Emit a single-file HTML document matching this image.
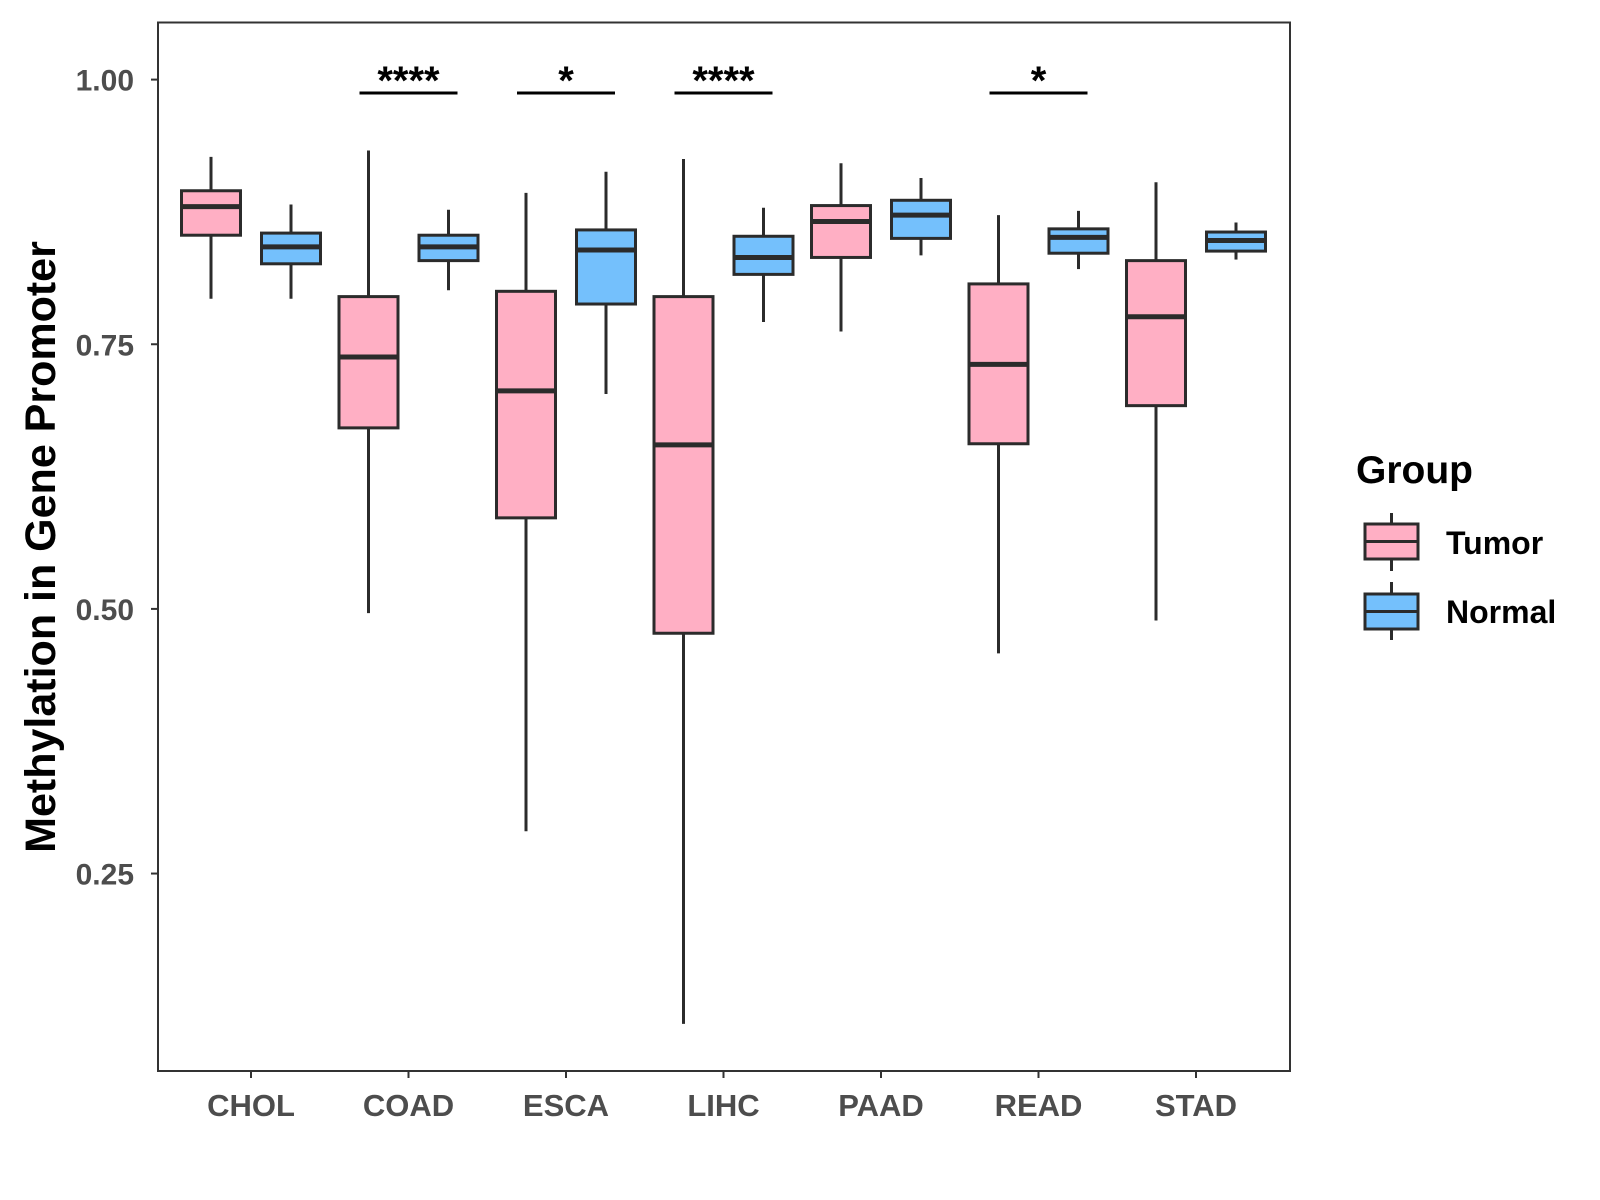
<!DOCTYPE html>
<html><head><meta charset="utf-8"><style>body{margin:0;background:#fff}svg{display:block;font-family:"Liberation Sans",Arial,sans-serif}</style></head>
<body>
<svg id="chart" width="1600" height="1200" viewBox="0 0 1600 1200">
<rect x="158" y="22.5" width="1132" height="1048.5" fill="none" stroke="#333" stroke-width="2"/>
<g id="marks"></g>
<text transform="translate(55,547) rotate(-90)" text-anchor="middle" font-size="43" font-weight="bold" fill="#000">Methylation in Gene Promoter</text>
<g>
<text x="1356" y="483" font-size="39" font-weight="bold" fill="#000">Group</text>
<g>
<line x1="1391.5" y1="513" x2="1391.5" y2="571" stroke="#2b2b2b" stroke-width="3"/>
<rect x="1365" y="524" width="53" height="35" fill="#FFAFC4" stroke="#2b2b2b" stroke-width="3"/>
<line x1="1365" y1="541.5" x2="1418" y2="541.5" stroke="#2b2b2b" stroke-width="3"/>
<text x="1446" y="554" font-size="32" font-weight="bold" fill="#000">Tumor</text></g>
<g>
<line x1="1391.5" y1="582" x2="1391.5" y2="640" stroke="#2b2b2b" stroke-width="3"/>
<rect x="1365" y="594" width="53" height="35" fill="#74C0FC" stroke="#2b2b2b" stroke-width="3"/>
<line x1="1365" y1="611.5" x2="1418" y2="611.5" stroke="#2b2b2b" stroke-width="3"/>
<text x="1446" y="623" font-size="32" font-weight="bold" fill="#000">Normal</text></g>
</g>
</svg>
<script>
const categories=["CHOL","COAD","ESCA","LIHC","PAAD","READ","STAD"];
// [lowWhisker, q1, median, q3, highWhisker]
const tumorStats=[[0.793,0.853,0.880,0.895,0.927],[0.496,0.671,0.738,0.795,0.933],[0.290,0.586,0.706,0.800,0.893],[0.108,0.477,0.655,0.795,0.925],[0.762,0.832,0.866,0.881,0.921],[0.458,0.656,0.731,0.807,0.872],[0.489,0.692,0.776,0.829,0.903]];
const normalStats=[[0.793,0.826,0.842,0.855,0.882],[0.801,0.829,0.842,0.853,0.877],[0.703,0.788,0.839,0.858,0.913],[0.771,0.816,0.832,0.852,0.879],[0.834,0.850,0.872,0.886,0.907],[0.821,0.836,0.851,0.859,0.876],[0.830,0.838,0.848,0.856,0.865]];
const yTicks=[0.25,0.50,0.75,1.00];
const yTickLabels=["0.25","0.50","0.75","1.00"];
const sigLabels=["","****","*","****","","*",""];
const NS="http://www.w3.org/2000/svg";
const g=document.getElementById('marks');
function y(v){return 79.6+(1-v)*1058.6;}
function x(i){return 251+i*157.5;}
function el(t,a,p){const e=document.createElementNS(NS,t);for(const k in a)e.setAttribute(k,a[k]);(p||g).appendChild(e);return e;}
yTicks.forEach((t,i)=>{
 const l=el('line',{x1:151,x2:158,y1:y(t),y2:y(t),stroke:'#333','stroke-width':2});
 
 
 const tx=el('text',{x:134,y:y(t)+11,'text-anchor':'end','font-size':30,'font-weight':'bold',fill:'#4d4d4d'});
 tx.textContent=yTickLabels[i];
 
 
});
function box(cx,s,fill,name){
 const w=59;
 const gg=el('g',{});
 
 
 el('line',{x1:cx,x2:cx,y1:y(s[4]),y2:y(s[0]),stroke:'#2b2b2b','stroke-width':3},gg);
 el('rect',{x:cx-w/2,y:y(s[3]),width:w,height:y(s[1])-y(s[3]),fill:fill,stroke:'#2b2b2b','stroke-width':3},gg);
 el('line',{x1:cx-w/2,x2:cx+w/2,y1:y(s[2]),y2:y(s[2]),stroke:'#2b2b2b','stroke-width':5},gg);
}
categories.forEach((c,i)=>{
 const cx=x(i);
 box(cx-40,tumorStats[i],'#FFAFC4','box-tumor-'+c.toLowerCase());
 box(cx+40,normalStats[i],'#74C0FC','box-normal-'+c.toLowerCase());
 const t=el('line',{x1:cx,x2:cx,y1:1071,y2:1078,stroke:'#333','stroke-width':2});
 
 
 const tx=el('text',{x:cx,y:1116,'text-anchor':'middle','font-size':31,'font-weight':'bold',fill:'#4d4d4d'});
 tx.textContent=c;
 
 
 if(sigLabels[i]){
  const b=el('line',{x1:cx-49,x2:cx+49,y1:93,y2:93,stroke:'#000','stroke-width':3});
  
  
  const st=el('text',{x:cx,y:94,'text-anchor':'middle','font-size':40,'font-weight':'bold',fill:'#000'});
  st.textContent=sigLabels[i];
  
  
 }
});
</script>
</body></html>
